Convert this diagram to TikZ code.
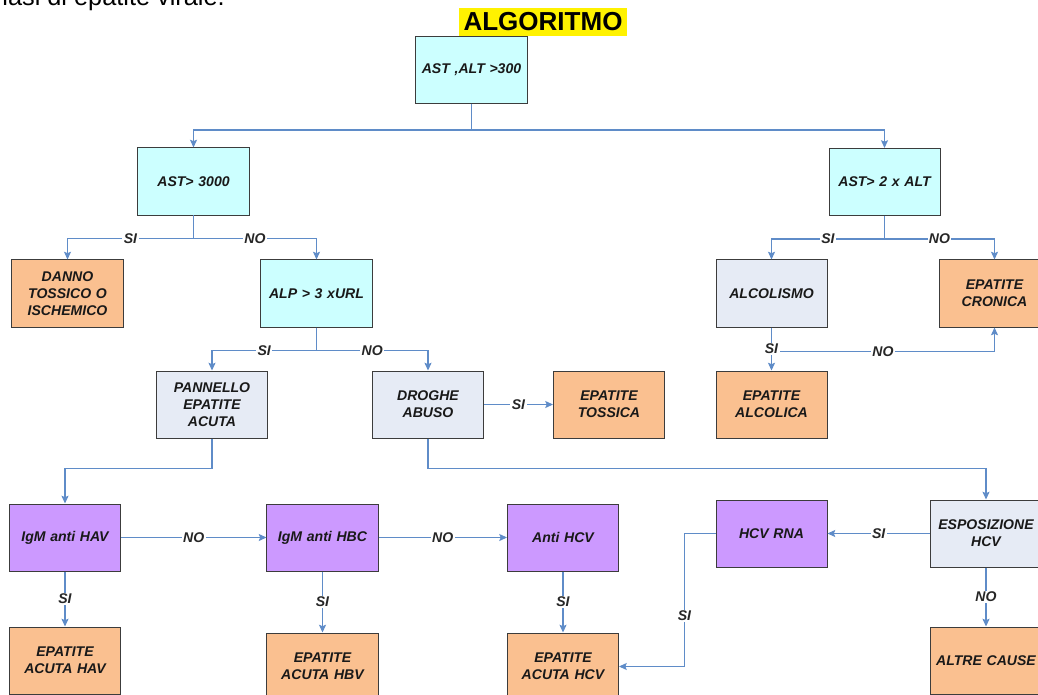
\documentclass[tikz,border=0pt]{standalone}
\usepackage{fontspec}
\setmainfont{Liberation Sans}
\usetikzlibrary{arrows.meta}

\definecolor{celeste}{RGB}{204,255,255}
\definecolor{grigio}{RGB}{230,235,245}
\definecolor{arancio}{RGB}{250,192,144}
\definecolor{viola}{RGB}{204,153,255}
\definecolor{linea}{RGB}{95,140,200}
\definecolor{bordo}{RGB}{60,60,60}

\tikzset{
  casella/.style={draw=bordo, line width=0.7pt, minimum width=2.775cm, minimum height=1.675cm,
    inner sep=1pt, text width=2.7cm, align=center, text=black!90,
    font=\fontsize{10}{12}\selectfont\bfseries\itshape},
  decisione/.style={casella, fill=celeste},
  esame/.style={casella, fill=grigio},
  esito/.style={casella, fill=arancio},
  test/.style={casella, fill=viola},
  freccia/.style={draw=linea, line width=0.8pt, -{Stealth[length=5.5pt,width=5pt,inset=1pt]}},
  risposta/.style={fill=white, inner sep=1pt, text=black!85,
    font=\fontsize{10}{12}\selectfont\bfseries\itshape}
}

\begin{document}
\begin{tikzpicture}[x=0.025cm, y=-0.025cm]

            \useasboundingbox (0,0) rectangle (1038,695);
            \clip (0,0) rectangle (1038,695);

            \node[anchor=base west, font=\fontsize{18}{20}\selectfont] (riga) at (-11,6) {nasi di epatite virale.};
            \node[fill=yellow, inner xsep=3pt, inner ysep=3.2pt, font=\fontsize{18.5}{20}\selectfont\bfseries] (titolo) at (543,22) {ALGORITMO};

            % prima e seconda fila
            \node[decisione] (astalt) at (471.5,70) {AST ,ALT >300};
            \node[decisione] (ast3000) at (193.5,181.5) {AST> 3000};
            \node[decisione] (ast2alt) at (884.5,182) {AST> 2 x ALT};

            \node[esito] (danno) at (67.5,293.5) {DANNO\\TOSSICO O\\ISCHEMICO};
            \node[decisione] (alp) at (316.5,293.5) {ALP > 3 xURL};
            \node[esame] (alcolismo) at (771.5,293.5) {ALCOLISMO};
            \node[esito] (cronica) at (994.5,293.5) {EPATITE\\CRONICA};

            \node[esame] (pannello) at (212,404.5) {PANNELLO\\EPATITE\\ACUTA};
            \node[esame] (droghe) at (428,404.5) {DROGHE\\ABUSO};
            \node[esito] (tossica) at (609,404.5) {EPATITE\\TOSSICA};
            \node[esito] (alcolica) at (771.5,404.5) {EPATITE\\ALCOLICA};

            % test sierologici
            \node[test] (hav) at (65,537.5) {IgM anti HAV};
            \node[test] (hbc) at (322.5,537.5) {IgM anti HBC};
            \node[test] (antihcv) at (563,537.5) {Anti HCV};
            \node[test] (hcvrna) at (771.5,533.5) {HCV RNA};
            \node[esame] (esposizione) at (986,533.5) {ESPOSIZIONE\\HCV};

            \node[esito] (ahav) at (65,660.5) {EPATITE\\ACUTA HAV};
            \node[esito] (ahbv) at (322.5,666.5) {EPATITE\\ACUTA HBV};
            \node[esito] (ahcv) at (563,666.5) {EPATITE\\ACUTA HCV};
            \node[esito] (altre) at (986,660.5) {ALTRE CAUSE};

            % collegamenti
            \draw[freccia] (astalt.south) -- ++(0,26) -| (ast3000.north);
            \draw[freccia] (astalt.south) -- ++(0,26) -| (ast2alt.north);

            \foreach \da/\a/\r in {ast3000/danno/SI, ast3000/alp/NO, ast2alt/alcolismo/SI, ast2alt/cronica/NO, alp/pannello/SI, alp/droghe/NO} {
                    \draw[freccia] (\da.south) -- ++(0,23) -| node[risposta,pos=.25]{\r} (\a.north);
                }

            \draw[freccia] (alcolismo.south) ++(0,24) -| node[risposta,pos=.25]{NO} (cronica.south);

            \foreach \da/\a in {alcolismo/alcolica, hav/ahav, hbc/ahbv, antihcv/ahcv} {
                    \draw[freccia] (\da) -- node[risposta]{SI} (\a);
                }

            \draw[freccia] (droghe) -- node[risposta]{SI} (tossica);
            \draw[freccia] (pannello.south) -- ++(0,30) -| (hav.north);
            \draw[freccia] (droghe.south) -- ++(0,30) -| (esposizione.north);

            \draw[freccia] (hav) -- node[risposta]{NO} (hbc);
            \draw[freccia] (hbc) -- node[risposta]{NO} (antihcv);
            \draw[freccia] (esposizione) -- node[risposta]{SI} (hcvrna);
            \draw[freccia] (esposizione) -- node[risposta]{NO} (altre);
            \draw[freccia] (hcvrna.west) -- ++(-31,0) |- node[risposta,pos=.31]{SI} (ahcv.east);

        \end{tikzpicture}
\end{document}
